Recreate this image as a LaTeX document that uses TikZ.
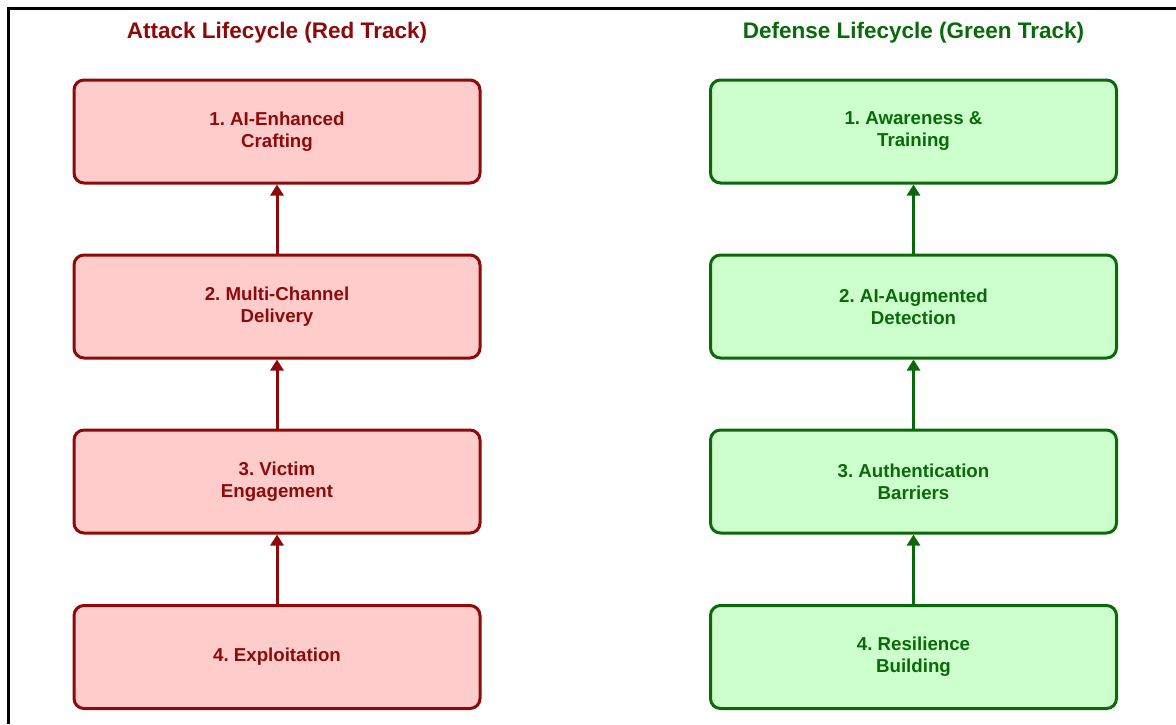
\documentclass[tikz,border=0pt]{standalone}
\usepackage{fontspec}
\setmainfont{Liberation Sans}
\usetikzlibrary{arrows.meta}
\frenchspacing
\definecolor{redline}{HTML}{8E0A0A}
\definecolor{redfill}{HTML}{FFCCCC}
\definecolor{greenline}{HTML}{0A6A0A}
\definecolor{greenfill}{HTML}{CCFFCC}
\tikzset{
  stagebox/.style={rectangle, rounded corners=10pt, line width=3pt,
    minimum width=406pt, minimum height=103pt, align=center,
    font=\fontsize{18.7pt}{22pt}\selectfont\bfseries\frenchspacing, inner sep=0pt},
  redbox/.style={stagebox, draw=redline, fill=redfill, text=redline},
  greenbox/.style={stagebox, draw=greenline, fill=greenfill, text=greenline},
  titletext/.style={font=\fontsize{22.5pt}{26pt}\selectfont\bfseries, inner sep=0pt},
  upflow/.style={line width=3pt, -{Triangle[width=13pt,length=11pt]}},
}
\begin{document}
\begin{tikzpicture}[x=1pt,y=-1pt]
\useasboundingbox (0,0) rectangle (1176,724);
\fill[white] (0,0) rectangle (1176,724);
\draw[line width=3pt] (8,724) -- (8,8) -- (1176,8);

\node[titletext, text=redline] (rt) at (277,33) {Attack Lifecycle (Red Track)};
\node[titletext, text=greenline] (gt) at (913.5,33) {Defense Lifecycle (Green Track)};

\node[redbox] (a1) at (277,131.5) {1. AI-Enhanced\\Crafting};
\node[redbox] (a2) at (277,306.5) {2. Multi-Channel\\Delivery};
\node[redbox] (a3) at (277,481.5) {3. Victim\\Engagement};
\node[redbox] (a4) at (277,657) {4. Exploitation};

\node[greenbox] (d1) at (913.5,131.5) {1. Awareness \&\\Training};
\node[greenbox] (d2) at (913.5,306.5) {2. AI-Augmented\\Detection};
\node[greenbox] (d3) at (913.5,481.5) {3. Authentication\\Barriers};
\node[greenbox] (d4) at (913.5,657) {4. Resilience\\Building};

\draw[upflow, redline] (a2.north) -- (a1.south);
\draw[upflow, redline] (a3.north) -- (a2.south);
\draw[upflow, redline] (a4.north) -- (a3.south);
\draw[upflow, greenline] (d2.north) -- (d1.south);
\draw[upflow, greenline] (d3.north) -- (d2.south);
\draw[upflow, greenline] (d4.north) -- (d3.south);
\end{tikzpicture}
\end{document}
